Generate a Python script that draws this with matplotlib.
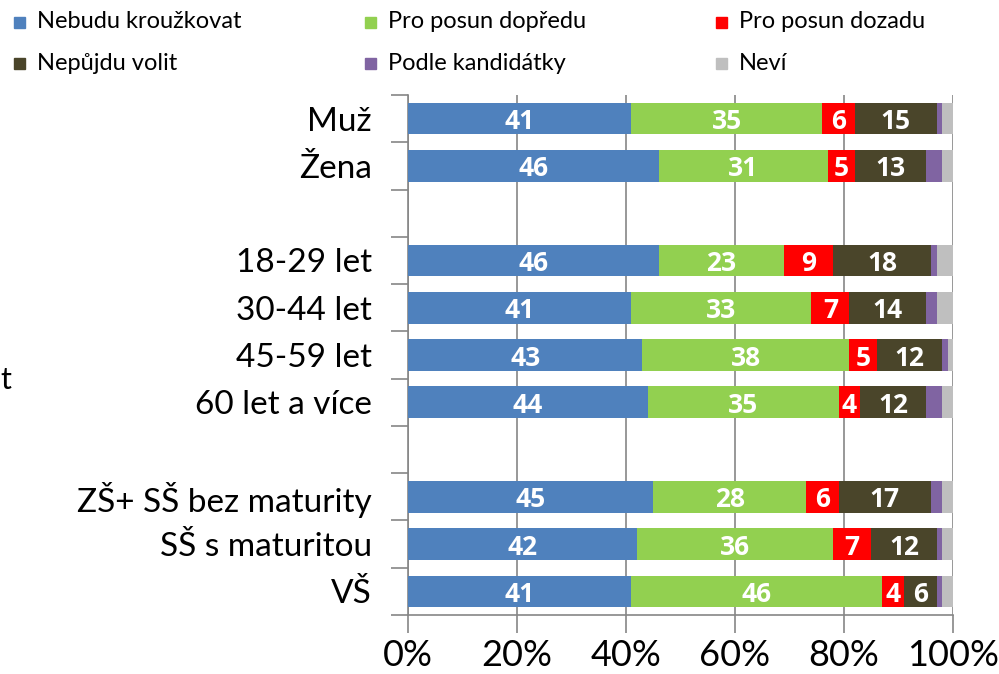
import matplotlib
matplotlib.use("Agg")
import matplotlib.pyplot as plt
from matplotlib.patches import Rectangle
import numpy as np

plt.rcParams['font.family'] = ['Lato', 'DejaVu Sans']

categories = ["Muž", "Žena", "", "18-29 let", "30-44 let", "45-59 let", "60 let a více",
              "", "ZŠ+ SŠ bez maturity", "SŠ s maturitou", "VŠ"]
series_names = ["Nebudu kroužkovat", "Pro posun dopředu", "Pro posun dozadu",
                "Nepůjdu volit", "Podle kandidátky", "Neví"]
nebudu  = [41, 46, None, 46, 41, 43, 44, None, 45, 42, 41]
dopredu = [35, 31, None, 23, 33, 38, 35, None, 28, 36, 46]
dozadu  = [6, 5, None, 9, 7, 5, 4, None, 6, 7, 4]
nepujdu = [15, 13, None, 18, 14, 12, 12, None, 17, 12, 6]
podle   = [1, 3, None, 1, 2, 1, 3, None, 2, 1, 1]
nevi    = [2, 2, None, 3, 3, 1, 2, None, 2, 2, 2]
xticks = [0, 20, 40, 60, 80, 100]
xtick_labels = ["0%", "20%", "40%", "60%", "80%", "100%"]

colors = ["#4F81BD", "#92D050", "#FF0000", "#4A452A", "#8064A2", "#BFBFBF"]
series = [nebudu, dopredu, dozadu, nepujdu, podle, nevi]
show_labels = [True, True, True, True, False, False]

fig = plt.figure(figsize=(9.99, 6.74), dpi=100)
ax = fig.add_axes([408/999, 1-615/674, (953-408)/999, (615-95)/674])

y = np.arange(len(categories))
left = np.zeros(len(categories))
for vals, col, lab in zip(series, colors, show_labels):
    v = np.array([0 if x is None else x for x in vals], dtype=float)
    ax.barh(y, v, left=left, height=0.67, color=col, linewidth=0, zorder=3)
    if lab:
        for yi, (l, w) in enumerate(zip(left, v)):
            if w > 0:
                ax.text(l + w/2, yi, f"{int(w)}", ha='center', va='center_baseline',
                        color='white', fontsize=19, fontweight='bold',
                        family=['Open Sans', 'DejaVu Sans'], zorder=4)
    left += v

ax.set_xlim(0, 100)
ax.set_ylim(len(categories)-0.5, -0.5)
ax.set_xticks(xticks)
ax.set_xticklabels(xtick_labels, fontsize=26)
ax.set_yticks(y)
ax.set_yticklabels(categories, fontsize=24)
ax.set_yticks(np.arange(-0.5, len(categories)), minor=True)
ax.tick_params(axis='y', which='major', length=0, pad=26)
ax.tick_params(axis='y', which='minor', length=12, color='#868686', width=1.2)
ax.tick_params(axis='x', which='major', length=13, color='#868686', width=1.2, pad=4)
ax.grid(axis='x', color='#868686', linewidth=1.2, zorder=0)
ax.spines['top'].set_visible(False)
ax.spines['right'].set_visible(False)
for s in ['left', 'bottom']:
    ax.spines[s].set_color('#868686')
    ax.spines[s].set_linewidth(1.2)

# legend
leg_x = [14, 365, 716]
leg_y = [22, 63]
for i, (name, col) in enumerate(zip(series_names, colors)):
    cx = leg_x[i % 3]
    cy = leg_y[i // 3]
    fig.patches.append(Rectangle((cx/999, 1-(cy+5.5)/674), 11/999, 11/674,
                                 transform=fig.transFigure, color=col, figure=fig))
    fig.text((cx+23)/999, 1-cy/674, name, fontsize=17, va='center', ha='left')

fig.text(0/999, 1-380/674, "t", fontsize=22, va='center', ha='left')

fig.savefig("out.png", dpi=100)
